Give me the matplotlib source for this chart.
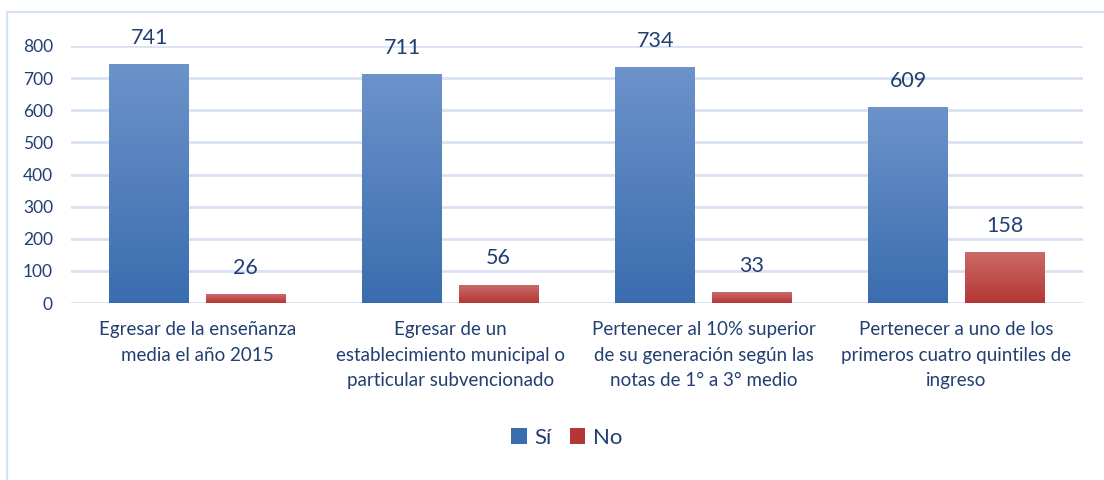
import numpy as np
import matplotlib.pyplot as plt
from matplotlib.colors import LinearSegmentedColormap
from matplotlib.lines import Line2D
from matplotlib.patches import Patch

categories = [
    "Egresar de la enseñanza\nmedia el año 2015",
    "Egresar de un\nestablecimiento municipal o\nparticular subvencionado",
    "Pertenecer al 10% superior\nde su generación según las\nnotas de 1° a 3° medio",
    "Pertenecer a uno de los\nprimeros cuatro quintiles de\ningreso",
]
si_values = [741, 711, 734, 609]
no_values = [26, 56, 33, 158]
series_names = ["Sí", "No"]

TEXT_COLOR = "#223F72"
GRID_COLOR = "#D9E2F3"
BLUE_TOP, BLUE_BOTTOM = "#6C93CA", "#3A6DAF"
RED_TOP, RED_BOTTOM = "#CA6A68", "#B43735"

plt.rcParams['font.family'] = ['Lato', 'DejaVu Sans']

fig = plt.figure(figsize=(11.04, 4.8), dpi=100)
ax = fig.add_axes([71 / 1104, 1 - 303 / 480, (1083 - 71) / 1104, (303 - 46) / 480])

bar_w = 0.316
offset = 0.19


def gradient_bar(ax, x, h, top, bottom):
    cmap = LinearSegmentedColormap.from_list("g", [bottom, top])
    grad = np.linspace(0, 1, 256).reshape(-1, 1)
    ax.imshow(grad, cmap=cmap, origin="lower", aspect="auto",
              extent=(x - bar_w / 2, x + bar_w / 2, 0, h), zorder=3)


x = np.arange(len(categories))
for i in range(len(categories)):
    gradient_bar(ax, x[i] - offset, si_values[i], BLUE_TOP, BLUE_BOTTOM)
    gradient_bar(ax, x[i] + offset, no_values[i], RED_TOP, RED_BOTTOM)
    for xv, v in [(x[i] - offset, si_values[i]), (x[i] + offset, no_values[i])]:
        ax.annotate(str(v), (xv, v), xytext=(0, 12), textcoords="offset points",
                    ha="center", va="bottom", fontsize=15.5, color=TEXT_COLOR)

ax.set_xlim(-0.5, 3.5)
ax.set_ylim(0, 800)
ax.set_yticks(range(0, 801, 100))
ax.yaxis.grid(True, color=GRID_COLOR, linewidth=2, zorder=0)
ax.set_axisbelow(True)
for s in ax.spines.values():
    s.set_visible(False)
ax.set_xticks(x)
ax.set_xticklabels(categories, fontsize=13.5, color=TEXT_COLOR, linespacing=1.62)
ax.tick_params(axis="x", length=0, pad=13)
ax.tick_params(axis="y", length=0, pad=13, labelsize=12.5, labelcolor=TEXT_COLOR)

handles = [Patch(facecolor=BLUE_BOTTOM), Patch(facecolor=RED_BOTTOM)]
fig.legend(handles, series_names, loc="center", bbox_to_anchor=(567 / 1104, 1 - 438 / 480),
           ncol=2, frameon=False, fontsize=16, labelcolor=TEXT_COLOR,
           handlelength=0.7, handleheight=0.7, handletextpad=0.35, columnspacing=0.8)

# chart frame (left and top edges)
fig.add_artist(Line2D([6.5 / 1104, 6.5 / 1104, 1.0], [0, 1 - 11.5 / 480, 1 - 11.5 / 480],
                      transform=fig.transFigure, color="#D6E1F2", linewidth=1.6))

fig.savefig("out.png", dpi=100)
